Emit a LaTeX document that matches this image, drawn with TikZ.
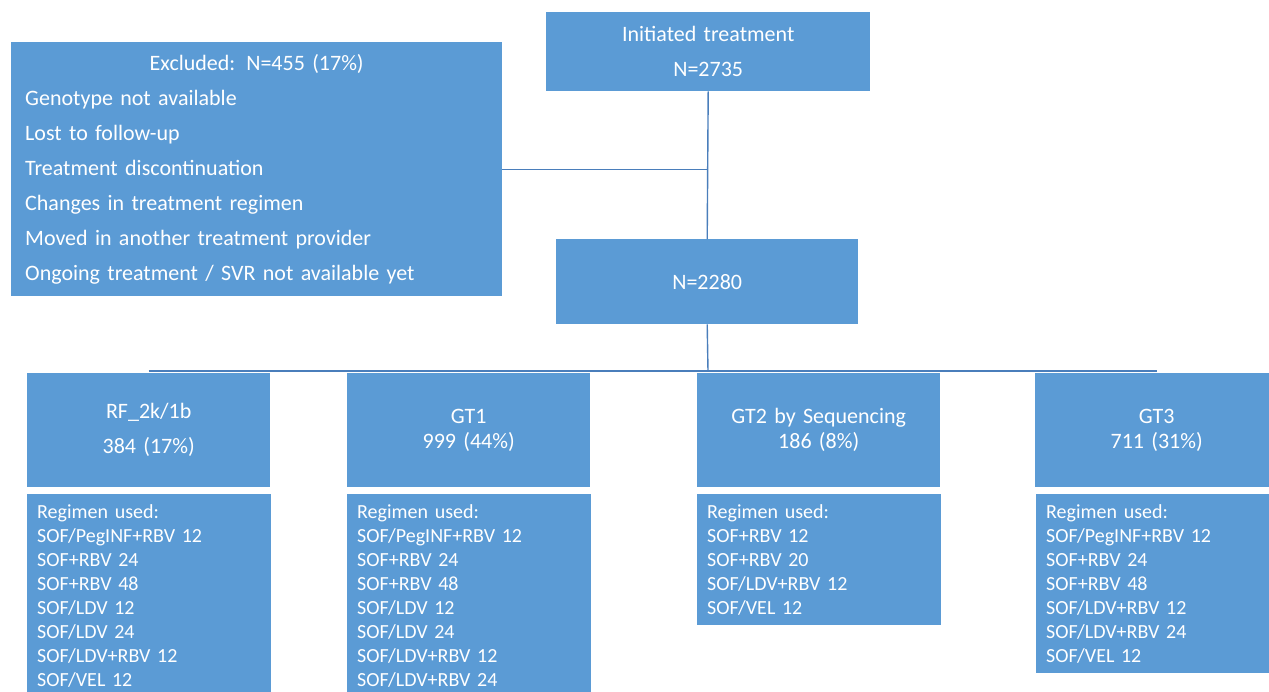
\documentclass[tikz,border=0pt]{standalone}
\usepackage{fontspec}
\setmainfont{Carlito}
\setlength{\parindent}{0pt}
\definecolor{boxblue}{RGB}{91,155,213}
\definecolor{lineblue}{RGB}{74,126,187}
\begin{document}
\begin{tikzpicture}[x=1pt,y=-1pt,
  box/.style={fill=boxblue, text=white, inner sep=0pt, anchor=north west, align=center},
  bigtxt/.style={font=\fontsize{22}{35}\selectfont},
  gttxt/.style={font=\fontsize{22}{25}\selectfont},
  topbox/.style={box, minimum width=243pt, minimum height=114pt, text width=233pt},
  regbox/.style={box, align=left, minimum width=244pt, text width=224pt, inner xsep=10pt, font=\fontsize{20}{24}\selectfont},
  conn/.style={draw=lineblue, line width=1.4pt}
]
\useasboundingbox (0,0) rectangle (1269,691);
\clip (0,0) rectangle (1269,691);

\node[box, bigtxt, minimum width=324pt, minimum height=79pt, text width=314pt] (init) at (546,12)
  {Initiated treatment\\N=2735};

\node[box, bigtxt, align=left, minimum width=491pt, minimum height=254pt, text width=463pt, inner xsep=14pt] (excl) at (11,42)
  {\makebox[463pt][c]{Excluded: N=455 (17\%)}\\
   Genotype not available\\
   Lost to follow-up\\
   Treatment discontinuation\\
   Changes in treatment regimen\\
   Moved in another treatment provider\\
   Ongoing treatment / SVR not available yet};

\node[box, bigtxt, minimum width=302pt, minimum height=85pt, text width=292pt] (n2280) at (556,239) {N=2280};

\node[topbox, bigtxt] (rf) at (27,373) {RF\_2k/1b\\384 (17\%)};
\node[topbox, gttxt] (gt1) at (347,373) {GT1\\999 (44\%)};
\node[topbox, gttxt] (gt2) at (697,373) {GT2 by Sequencing\\186 (8\%)};
\node[topbox, gttxt] (gt3) at (1035,373) {GT3\\711 (31\%)};

\node[regbox, minimum height=203pt] (rfreg) at (27,494)
  {Regimen used:\\SOF/PegINF+RBV 12\\SOF+RBV 24\\SOF+RBV 48\\SOF/LDV 12\\SOF/LDV 24\\SOF/LDV+RBV 12\\SOF/VEL 12};
\node[regbox, minimum height=203pt] (gt1reg) at (347,494)
  {Regimen used:\\SOF/PegINF+RBV 12\\SOF+RBV 24\\SOF+RBV 48\\SOF/LDV 12\\SOF/LDV 24\\SOF/LDV+RBV 12\\SOF/LDV+RBV 24};
\node[regbox, minimum height=131pt] (gt2reg) at (697,494)
  {Regimen used:\\SOF+RBV 12\\SOF+RBV 20\\SOF/LDV+RBV 12\\SOF/VEL 12};
\node[regbox, minimum height=179pt] (gt3reg) at (1036,494)
  {Regimen used:\\SOF/PegINF+RBV 12\\SOF+RBV 24\\SOF+RBV 48\\SOF/LDV+RBV 12\\SOF/LDV+RBV 24\\SOF/VEL 12};

\coordinate (bus) at (708,371);
\draw[conn] (init.south) -- (n2280.north);
\draw[conn] (excl.east) -- (excl.east -| init.south);
\draw[conn] (n2280.south) -- (bus);
\draw[conn] (rf.north |- bus) -- (gt3.north |- bus);
\end{tikzpicture}
\end{document}
